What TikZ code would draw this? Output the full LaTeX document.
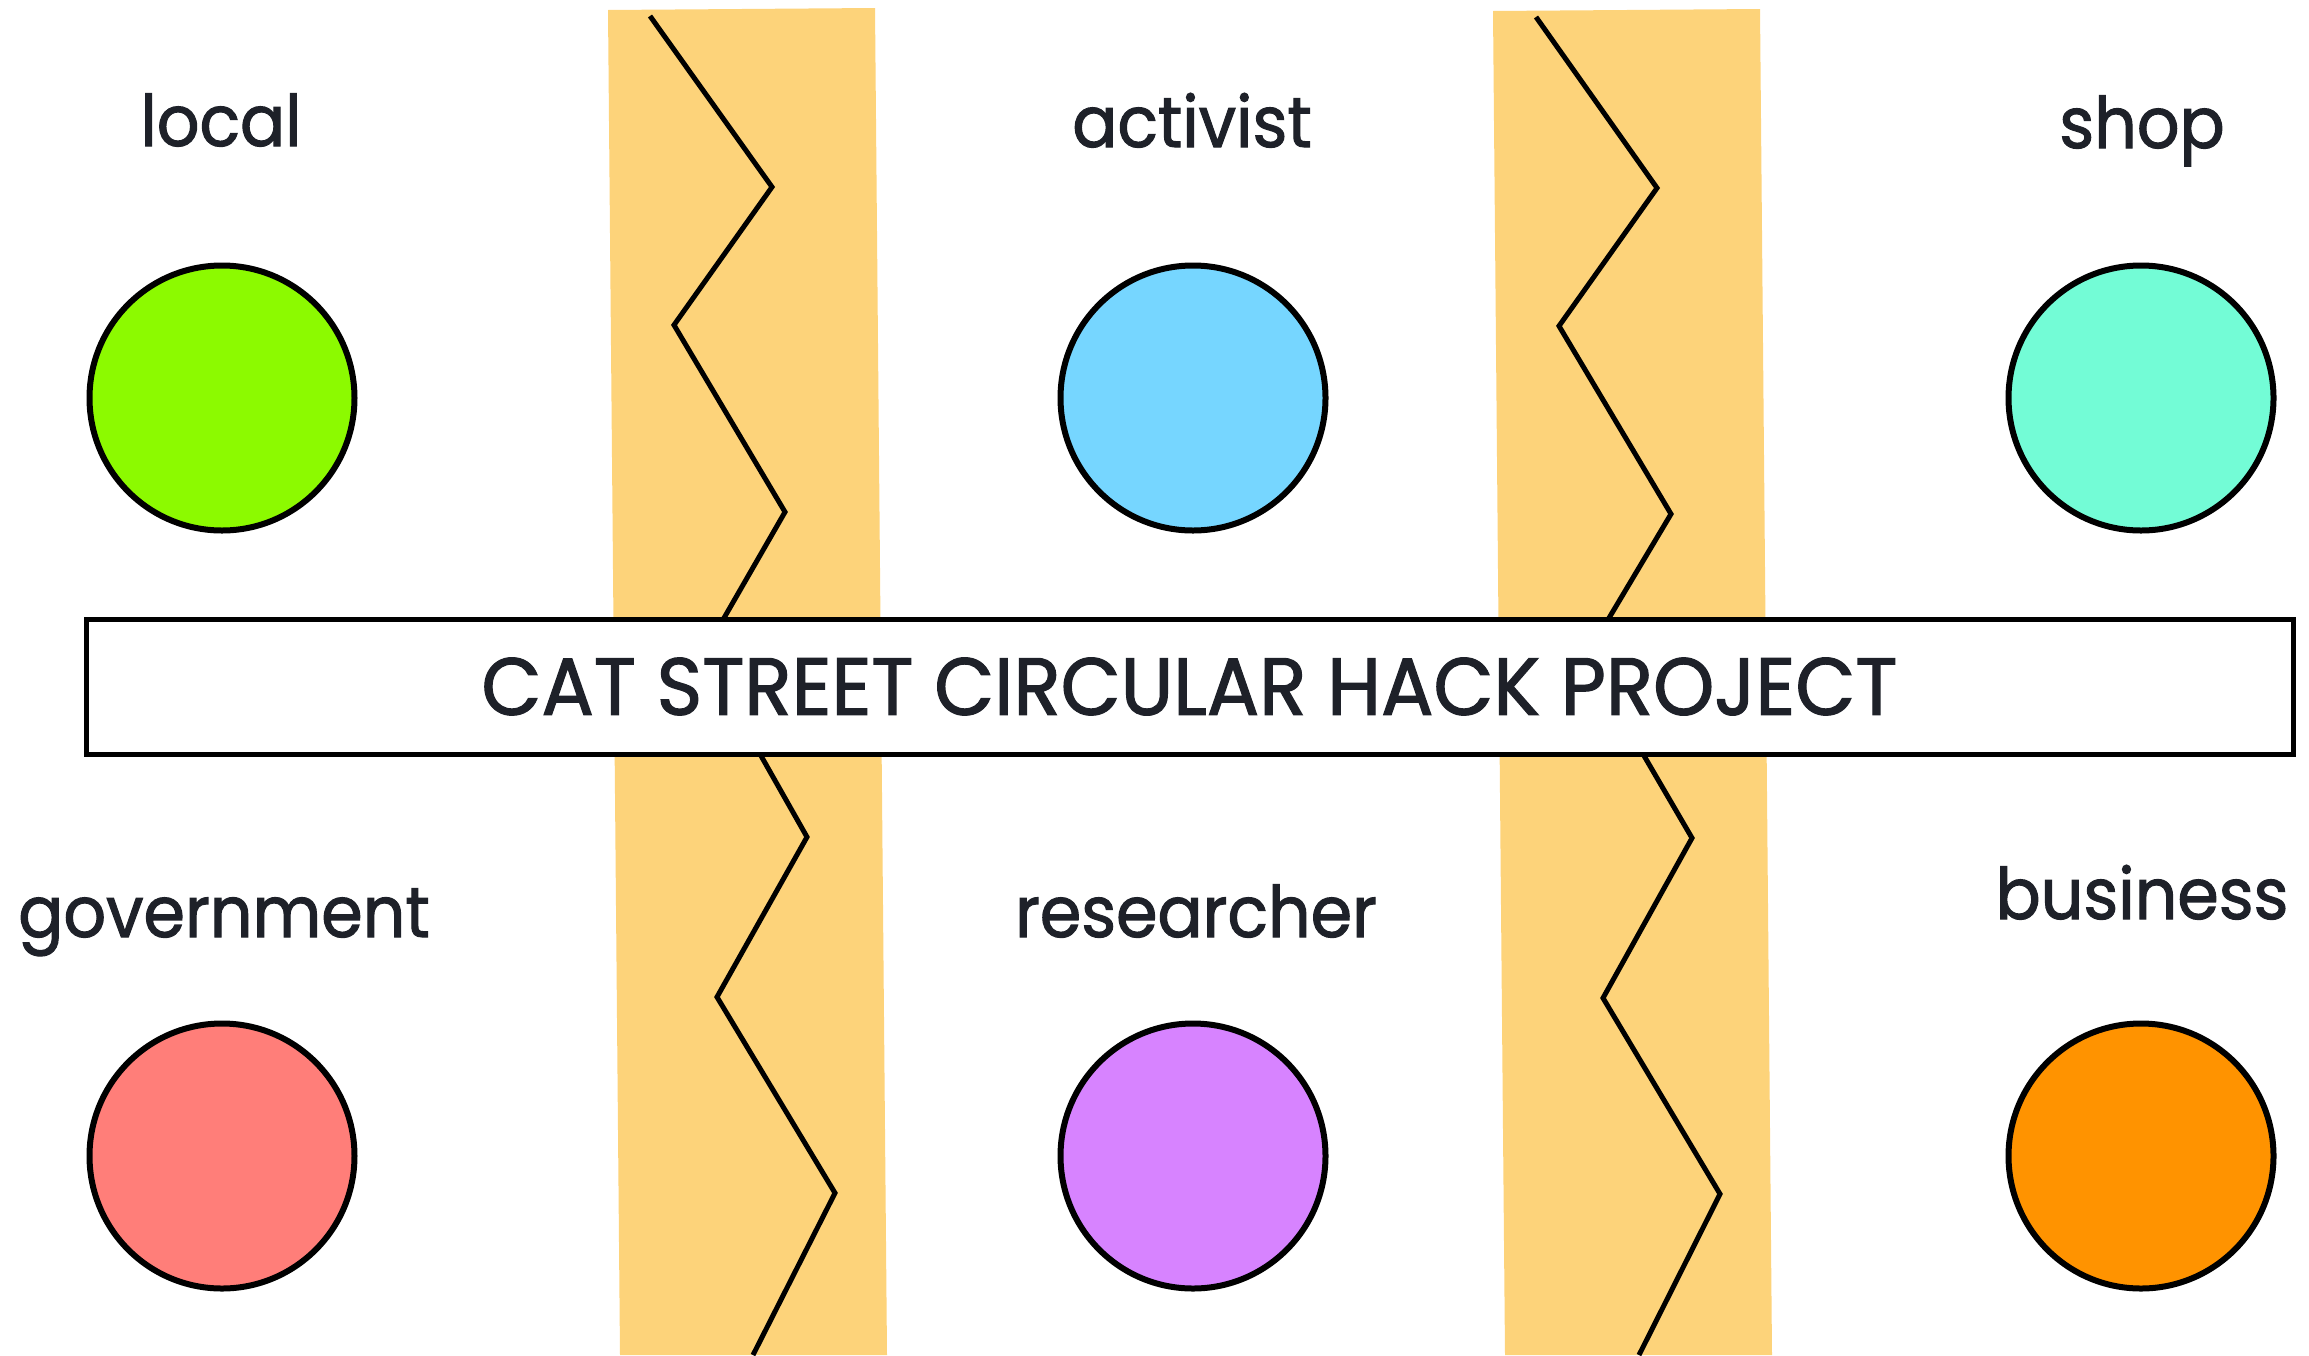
\documentclass[tikz,border=0pt]{standalone}
\usepackage{fontspec}
\setmainfont{Poppins}
\newfontfamily\lblfont{Poppins}[FakeStretch=0.94,FakeBold=1.5]
\newfontfamily\ttlfont{Poppins}[FakeStretch=0.96,FakeBold=1.5]
\definecolor{band}{HTML}{FDD37A}
\definecolor{ink}{HTML}{1E2129}
\definecolor{cgreen}{HTML}{8CFA00}
\definecolor{cblue}{HTML}{76D6FF}
\definecolor{cteal}{HTML}{73FCD6}
\definecolor{cred}{HTML}{FF7E79}
\definecolor{cpurple}{HTML}{D783FF}
\definecolor{corange}{HTML}{FF9300}
\tikzset{
  dot/.style={circle, draw=black, line width=6pt, minimum size=265pt, inner sep=0pt},
  lbl/.style={anchor=base, text=ink, font=\lblfont\fontsize{71}{80}\selectfont, inner sep=0pt},
  zig/.style={draw=black, line width=5pt, line join=miter},
  titlebox/.style={draw=black, fill=white, line width=5pt, minimum width=2207pt, minimum height=135pt, inner sep=0pt, text=ink, font=\ttlfont\fontsize{81}{90}\selectfont}
}
\begin{document}
\begin{tikzpicture}[x=1pt,y=-1pt]
\useasboundingbox (0,0) rectangle (2309,1355);
% bands
\fill[band] (608,10) -- (875,8) -- (887,1355) -- (620,1355) -- cycle;
\fill[band] (1493,11) -- (1760,9) -- (1772,1355) -- (1505,1355) -- cycle;
% zigzags
\draw[zig] (650,16) -- (772,187) -- (674,325) -- (785,512) -- (724,618) -- (760,754) -- (807,837) -- (717,997) -- (835,1193) -- (753,1355);
\draw[zig] (1536,17) -- (1657,188) -- (1559,326) -- (1671,514) -- (1609,618) -- (1643,754) -- (1692,838) -- (1603,998) -- (1720,1194) -- (1639,1355);
% title box
\node[titlebox] (title) at (1189.5,686.5) {CAT STREET CIRCULAR HACK PROJECT};
% circles
\node[dot, fill=cgreen] (local) at (222,398) {};
\node[dot, fill=cblue] (activist) at (1193,398) {};
\node[dot, fill=cteal] (shop) at (2141,398) {};
\node[dot, fill=cred] (government) at (222,1156) {};
\node[dot, fill=cpurple] (researcher) at (1193,1156) {};
\node[dot, fill=corange] (business) at (2141,1156) {};
% labels
\node[lbl] (tlocal) at (221,146) {local};
\node[lbl] (tactivist) at (1192,147) {activist};
\node[lbl] (tshop) at (2142,148) {shop};
\node[lbl] (tgovernment) at (224,937) {government};
\node[lbl] (tresearcher) at (1196,937) {researcher};
\node[lbl] (tbusiness) at (2142,919) {business};
\end{tikzpicture}
\end{document}
